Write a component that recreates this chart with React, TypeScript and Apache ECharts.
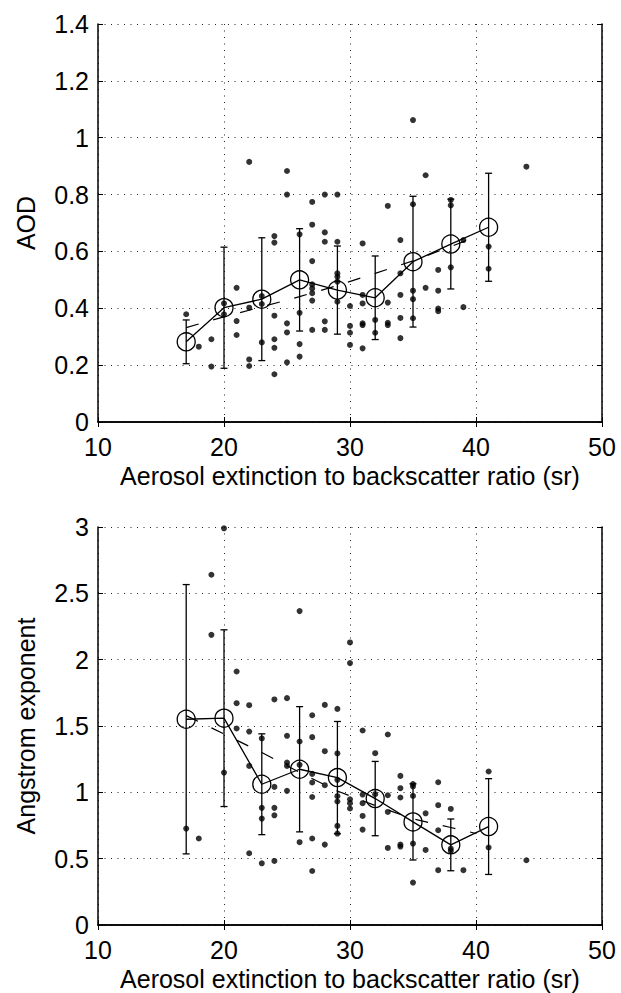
import React, { useEffect, useRef } from "react";
import * as echarts from "echarts";

// ---------- data ----------
const binX = [17, 20, 23, 26, 29, 32, 35, 38, 41];

const aodMean = [0.282, 0.402, 0.432, 0.5, 0.464, 0.437, 0.564, 0.626, 0.685];
const aodStd = [0.077, 0.213, 0.216, 0.18, 0.155, 0.147, 0.23, 0.158, 0.19];

const angMean = [1.551, 1.559, 1.061, 1.174, 1.111, 0.953, 0.777, 0.604, 0.742];
const angStd = [1.015, 0.666, 0.38, 0.472, 0.423, 0.28, 0.287, 0.195, 0.361];

const fitX = [17, 20, 23, 26, 29, 32, 35, 38, 40];
const aodFitY = [0.332, 0.37, 0.405, 0.441, 0.48, 0.523, 0.567, 0.617, 0.652];
const angFitY = [1.578, 1.44, 1.3, 1.15, 1.01, 0.9, 0.8, 0.735, 0.69];

const aodPoints: [number, number][] = [
  [17, 0.379],
  [18, 0.265],
  [19, 0.291], [19, 0.195],
  [20, 0.417], [20, 0.379],
  [21, 0.472], [21, 0.355], [21, 0.306],
  [22, 0.915], [22, 0.402], [22, 0.22], [22, 0.197],
  [23, 0.443], [23, 0.415], [23, 0.28],
  [24, 0.654], [24, 0.631], [24, 0.374], [24, 0.291], [24, 0.261], [24, 0.168],
  [25, 0.883], [25, 0.8], [25, 0.347], [25, 0.315], [25, 0.21],
  [26, 0.66], [26, 0.384], [26, 0.274], [26, 0.23],
  [27, 0.774], [27, 0.694], [27, 0.566], [27, 0.484], [27, 0.47], [27, 0.453], [27, 0.427], [27, 0.324],
  [28, 0.8], [28, 0.667], [28, 0.634], [28, 0.354], [28, 0.324],
  [29, 0.8], [29, 0.634], [29, 0.523], [29, 0.511], [29, 0.494], [29, 0.423],
  [30, 0.408], [30, 0.338], [30, 0.314], [30, 0.271],
  [31, 0.628], [31, 0.447], [31, 0.417], [31, 0.347], [31, 0.341], [31, 0.259],
  [32, 0.359], [32, 0.314],
  [33, 0.76], [33, 0.42], [33, 0.349], [33, 0.341],
  [34, 0.64], [34, 0.523], [34, 0.447], [34, 0.366], [34, 0.295],
  [35, 1.062], [35, 0.766], [35, 0.462], [35, 0.432], [35, 0.365],
  [36, 0.868], [36, 0.472],
  [37, 0.535], [37, 0.462], [37, 0.399], [37, 0.39],
  [38, 0.781], [38, 0.762], [38, 0.544],
  [39, 0.64], [39, 0.404],
  [41, 0.617], [41, 0.539],
  [44, 0.898],
];

const angPoints: [number, number][] = [
  [17, 0.727],
  [18, 0.652],
  [19, 2.64], [19, 2.187],
  [20, 2.99], [20, 1.149],
  [21, 1.911], [21, 1.672], [21, 1.481],
  [22, 1.657], [22, 1.458], [22, 1.199], [22, 0.541],
  [23, 1.406], [23, 0.883], [23, 0.802], [23, 0.465],
  [24, 1.7], [24, 1.041], [24, 0.883], [24, 0.827], [24, 0.483],
  [25, 1.71], [25, 1.426], [25, 1.225], [25, 1.199], [25, 1.011],
  [26, 2.366], [26, 1.383], [26, 1.207], [26, 0.624],
  [27, 1.581], [27, 1.416], [27, 1.139], [27, 1.074], [27, 0.965], [27, 0.652], [27, 0.407],
  [28, 1.659], [28, 1.31], [28, 1.054], [28, 0.606],
  [29, 1.629], [29, 1.293], [29, 1.094], [29, 0.971], [29, 0.931], [29, 0.747], [29, 0.689],
  [30, 2.13], [30, 1.974], [30, 0.948], [30, 0.918], [30, 0.878],
  [31, 1.466], [31, 0.983], [31, 0.918], [31, 0.822], [31, 0.719],
  [32, 1.295], [32, 0.986],
  [33, 1.436], [33, 0.978], [33, 0.852], [33, 0.581],
  [34, 1.124], [34, 1.031], [34, 0.961], [34, 0.606], [34, 0.591],
  [35, 1.063], [35, 1.044], [35, 0.973], [35, 0.614], [35, 0.32],
  [36, 0.842], [36, 0.566],
  [37, 1.076], [37, 0.903], [37, 0.714], [37, 0.413],
  [38, 0.875], [38, 0.576], [38, 0.558],
  [39, 0.413],
  [41, 1.157], [41, 0.584],
  [44, 0.488],
];

const xLabel = "Aerosol extinction to backscatter ratio (sr)";
const yLabelTop = "AOD";
const yLabelBottom = "Angstrom exponent";

// ---------- styling ----------
const FONT = "'Liberation Sans', Arial, Helvetica, sans-serif";
const FS = 25;
const BLACK = "#000";

function errorBarSeries(axisIdx: number, means: number[], stds: number[]) {
  return {
    type: "custom",
    xAxisIndex: axisIdx,
    yAxisIndex: axisIdx,
    data: binX.map((x, i) => [x, means[i] - stds[i], means[i] + stds[i]]),
    encode: { x: 0, y: [1, 2] },
    silent: true,
    z: 3,
    renderItem: (params: any, api: any) => {
      const lo = api.coord([api.value(0), api.value(1)]);
      const hi = api.coord([api.value(0), api.value(2)]);
      const w = 3.5;
      const st = { stroke: BLACK, lineWidth: 1.3 };
      return {
        type: "group",
        children: [
          { type: "line", shape: { x1: lo[0], y1: lo[1], x2: hi[0], y2: hi[1] }, style: st },
          { type: "line", shape: { x1: lo[0] - w, y1: lo[1], x2: lo[0] + w, y2: lo[1] }, style: st },
          { type: "line", shape: { x1: hi[0] - w, y1: hi[1], x2: hi[0] + w, y2: hi[1] }, style: st },
        ],
      };
    },
  };
}

function makeAxes(gridIndex: number, yMax: number, yInterval: number, yName: string, yGap: number) {
  const axisLine = { show: true, lineStyle: { color: BLACK, width: 1.5 } };
  const tick = { show: true, inside: true, length: 5, lineStyle: { color: BLACK, width: 1 } };
  const label = { color: BLACK, fontSize: FS, fontFamily: FONT };
  const split = { show: true, lineStyle: { color: "#222", width: 1, type: [1, 5.5] } };
  const xAxes = [
    {
      type: "value", gridIndex, min: 10, max: 50, interval: 10, position: "bottom",
      axisLine, axisTick: tick, axisLabel: { ...label, margin: 12 },
      splitLine: split,
      name: xLabel, nameLocation: "middle", nameGap: 41,
      nameTextStyle: { color: BLACK, fontSize: FS, fontFamily: FONT },
    },
    {
      type: "value", gridIndex, min: 10, max: 50, interval: 10, position: "top",
      axisLine, axisTick: tick, axisLabel: { show: false }, splitLine: { show: false },
    },
  ];
  const yAxes = [
    {
      type: "value", gridIndex, min: 0, max: yMax, interval: yInterval, position: "left",
      axisLine, axisTick: tick, axisLabel: { ...label, margin: 9 },
      splitLine: split,
      name: yName, nameLocation: "middle", nameGap: yGap,
      nameTextStyle: { color: BLACK, fontSize: FS, fontFamily: FONT },
    },
    {
      type: "value", gridIndex, min: 0, max: yMax, interval: yInterval, position: "right",
      axisLine, axisTick: tick, axisLabel: { show: false }, splitLine: { show: false },
    },
  ];
  return { xAxes, yAxes };
}

function seriesFor(axisIdx: number, points: [number, number][], means: number[], stds: number[], fitY: number[]) {
  return [
    {
      type: "scatter",
      xAxisIndex: axisIdx,
      yAxisIndex: axisIdx,
      data: points,
      symbol: "circle",
      symbolSize: 6,
      itemStyle: { color: BLACK },
      silent: true,
      z: 2,
    },
    errorBarSeries(axisIdx, means, stds),
    {
      type: "line",
      xAxisIndex: axisIdx,
      yAxisIndex: axisIdx,
      data: fitX.map((x, i) => [x, fitY[i]]),
      showSymbol: false,
      symbol: "none",
      lineStyle: { color: BLACK, width: 1.2, type: [13, 15] },
      silent: true,
      z: 3,
    },
    {
      type: "line",
      xAxisIndex: axisIdx,
      yAxisIndex: axisIdx,
      data: binX.map((x, i) => [x, means[i]]),
      symbol: "circle",
      symbolSize: 18,
      showSymbol: true,
      itemStyle: { color: "rgba(0,0,0,0)", borderColor: BLACK, borderWidth: 1.3 },
      lineStyle: { color: BLACK, width: 1.3 },
      silent: true,
      z: 4,
    },
  ];
}

export default function App() {
  const ref = useRef<HTMLDivElement>(null);
  useEffect(() => {
    document.body.style.margin = "0";
    const chart = echarts.init(ref.current!, null, { renderer: "svg" });
    const top = makeAxes(0, 1.4, 0.2, yLabelTop, 60);
    const bot = makeAxes(1, 3, 0.5, yLabelBottom, 60);
    const option: any = {
      animation: false,
      backgroundColor: "#fff",
      textStyle: { fontFamily: FONT },
      grid: [
        { left: 98, top: 24, width: 504, height: 398 },
        { left: 98, top: 527, width: 504, height: 398 },
      ],
      xAxis: [...top.xAxes, ...bot.xAxes],
      yAxis: [...top.yAxes, ...bot.yAxes],
      series: [
        ...seriesFor(0, aodPoints, aodMean, aodStd, aodFitY),
        ...seriesFor(2, angPoints, angMean, angStd, angFitY),
      ],
    };
    chart.setOption(option);
    return () => chart.dispose();
  }, []);
  return <div ref={ref} style={{ width: 621, height: 993 }} />;
}
